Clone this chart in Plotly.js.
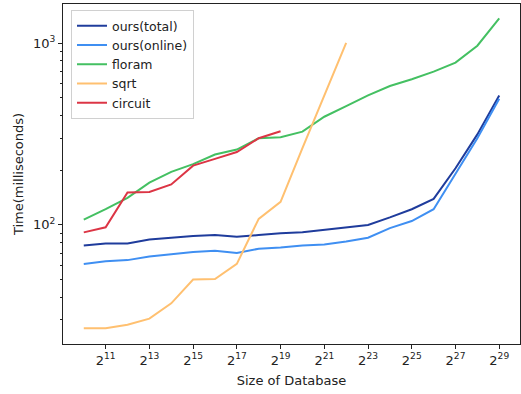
<!DOCTYPE html>
<html>
<head>
<meta charset="utf-8">
<script src="https://cdn.plot.ly/plotly-3.0.1.min.js"></script>
<style>
  html, body { margin: 0; padding: 0; background: #fff; }
  #chart { width: 521px; height: 394px; }
</style>
</head>
<body>
<div id="chart"></div>
<script>
// Database size, as a power of two (log2 of the number of entries)
const sizeExp = [10, 11, 12, 13, 14, 15, 16, 17, 18, 19, 20, 21, 22, 23, 24, 25, 26, 27, 28, 29];

// Query time in milliseconds
const oursTotal  = [77, 79, 79, 83, 85, 87, 88, 86, 88, 90, 91, 94, 97, 100, 110, 122, 139, 205, 315, 515];
const oursOnline = [61, 63, 64, 67, 69, 71, 72, 70, 74, 75, 77, 78, 81, 85, 96, 105, 122, 193, 300, 495];
const floram     = [107, 122, 141, 171, 196, 216, 244, 260, 300, 304, 326, 394, 451, 517, 582, 634, 698, 782, 970, 1373];
const sqrtSize   = sizeExp.slice(0, 13);
const sqrtTime   = [27, 27, 28.2, 30.5, 37, 50, 50.4, 61, 108, 134, 265, 515, 1005];
const circuitSize = sizeExp.slice(0, 10);
const circuitTime = [91, 97, 151, 152, 167, 212, 231, 252, 300, 328];

// Axis ticks
const xTickVals = [11, 13, 15, 17, 19, 21, 23, 25, 27, 29];
const xTickText = ['2<sup>11</sup>', '2<sup>13</sup>', '2<sup>15</sup>', '2<sup>17</sup>', '2<sup>19</sup>',
                   '2<sup>21</sup>', '2<sup>23</sup>', '2<sup>25</sup>', '2<sup>27</sup>', '2<sup>29</sup>'];
const yTickVals = [100, 1000];
const yTickText = ['10<sup>2</sup>', '10<sup>3</sup>'];
const yMinorVals = [30, 40, 50, 60, 70, 80, 90, 200, 300, 400, 500, 600, 700, 800, 900];

const series = [
  { name: 'ours(total)',  x: sizeExp,     y: oursTotal,  color: '#1f3c9c' },
  { name: 'ours(online)', x: sizeExp,     y: oursOnline, color: '#3f8ff2' },
  { name: 'floram',       x: sizeExp,     y: floram,     color: '#44c062' },
  { name: 'sqrt',         x: sqrtSize,    y: sqrtTime,   color: '#ffc070' },
  { name: 'circuit',      x: circuitSize, y: circuitTime, color: '#dc3545' }
];

const traces = series.map(s => ({
  type: 'scatter',
  mode: 'lines',
  name: s.name,
  x: s.x,
  y: s.y,
  line: { color: s.color, width: 2 }
}));

const font = { family: 'DejaVu Sans, sans-serif', size: 13, color: '#222' };

const layout = {
  width: 521,
  height: 394,
  margin: { l: 63, r: 1, t: 4, b: 50 },
  paper_bgcolor: '#fff',
  plot_bgcolor: '#fff',
  font: font,
  showlegend: true,
  legend: {
    x: 0.0175, y: 0.982, xanchor: 'left', yanchor: 'top',
    bgcolor: 'rgba(255,255,255,0.8)',
    bordercolor: '#d0d0d0', borderwidth: 1,
    font: { family: 'DejaVu Sans, sans-serif', size: 12.5, color: '#222' },
    tracegroupgap: 0
  },
  xaxis: {
    range: [9.05, 29.95],
    tickmode: 'array',
    tickvals: xTickVals,
    ticktext: xTickText,
    ticks: 'outside', ticklen: 4, tickwidth: 1, tickcolor: '#222',
    showgrid: false, zeroline: false,
    showline: true, linecolor: '#222', linewidth: 1, mirror: true,
    title: { text: 'Size of Database', font: font, standoff: 9 }
  },
  yaxis: {
    type: 'log',
    range: [Math.log10(22.1), Math.log10(1645)],
    tickmode: 'array',
    tickvals: yTickVals,
    ticktext: yTickText,
    ticks: 'outside', ticklen: 4, tickwidth: 1, tickcolor: '#222',
    minor: { tickmode: 'array', tickvals: yMinorVals, ticks: 'outside', ticklen: 2, tickcolor: '#222', showgrid: false },
    showgrid: false, zeroline: false,
    showline: true, linecolor: '#222', linewidth: 1, mirror: true,
    title: { text: 'Time(milliseconds)', font: font, standoff: 6 }
  }
};

Plotly.newPlot('chart', traces, layout, { displayModeBar: false, staticPlot: true });
</script>
</body>
</html>
